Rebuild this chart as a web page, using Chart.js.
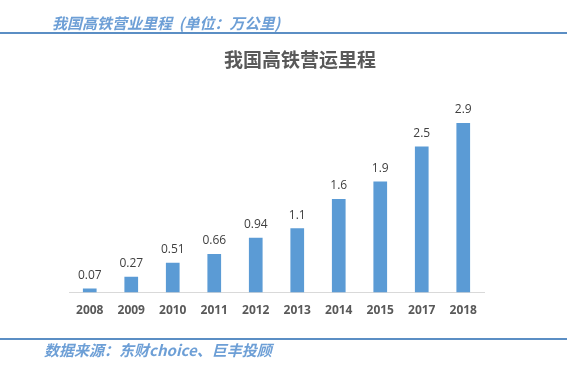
<!DOCTYPE html>
<html>
<head>
<meta charset="utf-8">
<script src="https://cdn.jsdelivr.net/npm/chart.js@4/dist/chart.umd.min.js"></script>
<style>
  html, body { margin: 0; padding: 0; background: #fff; }
  body { width: 567px; height: 371px; position: relative; overflow: hidden; font-family: "Noto Sans CJK SC", sans-serif; }
  #wrap { position: absolute; left: 0; top: 0; width: 567px; height: 371px; }
  .hdr { position: absolute; left: 52px; top: 13px; font-size: 15px; font-weight: bold; font-style: italic; color: #6d9fd6; line-height: 20px; white-space: nowrap; }
  .ftr { position: absolute; left: 44px; top: 340px; font-size: 15px; font-weight: bold; font-style: italic; color: #6d9fd6; line-height: 20px; white-space: nowrap; }
  .line1 { position: absolute; left: 0; top: 32px; width: 567px; height: 2px; background: #5b8ec4; }
  .line2 { position: absolute; left: 0; top: 338px; width: 567px; height: 2px; background: #5b8ec4; }
  .ttl { position: absolute; left: 0; width: 600px; top: 48px; text-align: center; font-size: 19px; font-weight: bold; color: #595959; line-height: 22px; font-family: "Noto Sans CJK SC", serif; }
</style>
</head>
<body>
<div id="wrap"><canvas id="c" width="567" height="371"></canvas></div>
<div class="hdr">我国高铁营业里程&nbsp;&nbsp;(单位：万公里)</div>
<div class="line1"></div>
<div class="ttl">我国高铁营运里程</div>
<div class="line2"></div>
<div class="ftr">数据来源：东财choice、巨丰投顾</div>
<script>
const categories = ["2008","2009","2010","2011","2012","2013","2014","2015","2017","2018"];
const mileage = [0.07, 0.27, 0.51, 0.66, 0.94, 1.1, 1.6, 1.9, 2.5, 2.9];
const valueLabels = ["0.07","0.27","0.51","0.66","0.94","1.1","1.6","1.9","2.5","2.9"];

const labelPlugin = {
  id: 'valueLabels',
  afterDatasetsDraw(chart) {
    const ctx = chart.ctx;
    const meta = chart.getDatasetMeta(0);
    ctx.save();
    ctx.font = '12px "Open Sans", "DejaVu Sans", sans-serif';
    ctx.fillStyle = '#404040';
    ctx.textAlign = 'center';
    ctx.textBaseline = 'bottom';
    meta.data.forEach((el, i) => {
      ctx.fillText(valueLabels[i], el.x, el.y - 7);
    });
    ctx.restore();
  }
};

new Chart(document.getElementById('c'), {
  type: 'bar',
  data: {
    labels: categories,
    datasets: [{
      data: mileage,
      backgroundColor: '#5b9bd5',
      barPercentage: 0.33,
      categoryPercentage: 1.0
    }]
  },
  options: {
    responsive: false,
    animation: false,
    devicePixelRatio: 1,
    layout: { padding: { left: 69, right: 83, top: 88, bottom: 42 } },
    plugins: { legend: { display: false }, title: { display: false }, tooltip: { enabled: false } },
    scales: {
      x: {
        grid: { display: false, drawTicks: false },
        border: { display: true, color: '#d9d9d9', width: 1 },
        ticks: { color: '#595959', padding: 11, font: { size: 12, weight: 'bold', family: '"Open Sans", "DejaVu Sans", sans-serif' } }
      },
      y: {
        display: false,
        min: 0,
        max: 3.5
      }
    }
  },
  plugins: [labelPlugin]
});
</script>
</body>
</html>
